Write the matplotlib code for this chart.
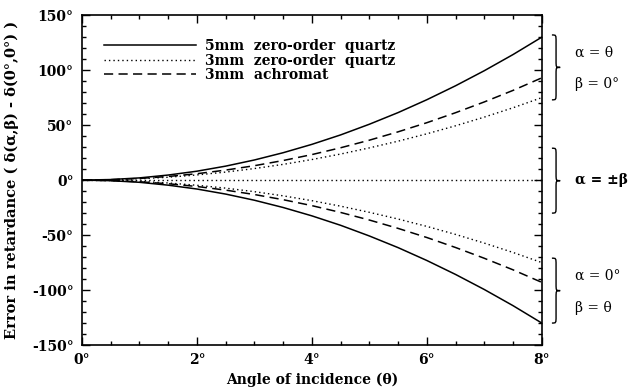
import matplotlib
matplotlib.use("Agg")
import matplotlib.pyplot as plt
from matplotlib.path import Path
from matplotlib.patches import PathPatch
import matplotlib.transforms as mtransforms
from matplotlib.ticker import MultipleLocator, FuncFormatter

theta = [0, 0.5, 1, 1.5, 2, 2.5, 3, 3.5, 4, 4.5, 5, 5.5, 6, 6.5, 7, 7.5, 8]
quartz5 = [0, 0.5, 2.0, 4.6, 8.1, 12.7, 18.3, 24.9, 32.5, 41.1, 50.8, 61.4, 73.1, 85.8, 99.5, 114.2, 130]
achromat3 = [0, 0.4, 1.5, 3.3, 5.8, 9.1, 13.1, 17.8, 23.2, 29.4, 36.3, 43.9, 52.2, 61.3, 71.1, 81.6, 93]
quartz3 = [0, 0.3, 1.2, 2.6, 4.7, 7.3, 10.5, 14.3, 18.7, 23.7, 29.3, 35.4, 42.1, 49.4, 57.3, 65.8, 75]
zero_line = [0] * len(theta)

labels = ["5mm  zero-order  quartz", "3mm  zero-order  quartz", "3mm  achromat"]

serif = "DejaVu Serif"
plt.rcParams['font.family'] = serif

fig = plt.figure(figsize=(6.3, 3.89), dpi=100)
ax = fig.add_axes([0.130, 0.113, 0.730, 0.848])

lw = 1.1
dot = (0, (1, 2.2))
dash = (0, (6, 3.5))
l1, = ax.plot(theta, quartz5, color='black', lw=lw, ls='-')
l2, = ax.plot(theta, quartz3, color='black', lw=1.0, ls=dot)
l3, = ax.plot(theta, achromat3, color='black', lw=lw, ls=dash)
ax.plot(theta, [-v for v in quartz5], color='black', lw=lw, ls='-')
ax.plot(theta, [-v for v in quartz3], color='black', lw=1.0, ls=dot)
ax.plot(theta, [-v for v in achromat3], color='black', lw=lw, ls=dash)
ax.plot(theta, zero_line, color='black', lw=1.0, ls=dot)

ax.set_xlim(0, 8)
ax.set_ylim(-150, 150)
ax.xaxis.set_major_locator(MultipleLocator(2))
ax.xaxis.set_minor_locator(MultipleLocator(0.5))
ax.yaxis.set_major_locator(MultipleLocator(50))
ax.yaxis.set_minor_locator(MultipleLocator(10))
fmt = FuncFormatter(lambda v, p: f"{int(round(v))}°")
ax.xaxis.set_major_formatter(fmt)
ax.yaxis.set_major_formatter(fmt)
ax.tick_params(which='both', direction='in', top=True, right=True, width=1.0)
ax.tick_params(which='major', length=6, labelsize=10, pad=6)
ax.tick_params(which='minor', length=3)
for t in ax.get_xticklabels() + ax.get_yticklabels():
    t.set_fontweight('bold')
for s in ax.spines.values():
    s.set_linewidth(1.2)

ax.set_xlabel("Angle of incidence (θ)", fontsize=10, fontweight='bold', labelpad=4)
ax.set_ylabel("Error in retardance ( δ(α,β) - δ(0°,0°) )", fontsize=10.5, fontweight='bold', labelpad=9)

leg = ax.legend([l1, l2, l3], labels, loc='upper left', bbox_to_anchor=(0.036, 0.945),
                frameon=False, fontsize=10, handlelength=6.6, handletextpad=0.7,
                labelspacing=0.05, borderaxespad=0)
for t in leg.get_texts():
    t.set_fontweight('bold')

trans = mtransforms.blended_transform_factory(ax.transAxes, ax.transData)

def brace(yt, yb, x0=1.022, w=0.018, r=6):
    ym = (yt + yb) / 2
    xm = x0 + w * 0.5
    verts = [(x0, yt), (xm, yt), (xm, yt), (xm, yt - r),
             (xm, ym + r),
             (xm, ym), (xm, ym), (x0 + w, ym),
             (xm, ym), (xm, ym), (xm, ym - r),
             (xm, yb + r),
             (xm, yb), (xm, yb), (x0, yb)]
    codes = [Path.MOVETO, Path.CURVE4, Path.CURVE4, Path.CURVE4,
             Path.LINETO,
             Path.CURVE4, Path.CURVE4, Path.CURVE4,
             Path.CURVE4, Path.CURVE4, Path.CURVE4,
             Path.LINETO,
             Path.CURVE4, Path.CURVE4, Path.CURVE4]
    p = PathPatch(Path(verts, codes), transform=trans, fill=False, lw=1.0,
                  edgecolor='black', clip_on=False)
    ax.add_patch(p)

brace(132, 73)
brace(29, -30)
brace(-71, -130)

tx = 1.072
ax.text(tx, 116, "α = θ", transform=trans, fontsize=10, va='center', ha='left')
ax.text(tx, 87, "β = 0°", transform=trans, fontsize=10, va='center', ha='left')
ax.text(tx, 0, "α = ±β", transform=trans, fontsize=10, va='center', ha='left', fontweight='bold')
ax.text(tx, -87, "α = 0°", transform=trans, fontsize=10, va='center', ha='left')
ax.text(tx, -116, "β = θ", transform=trans, fontsize=10, va='center', ha='left')

fig.savefig("out.png", dpi=100)
